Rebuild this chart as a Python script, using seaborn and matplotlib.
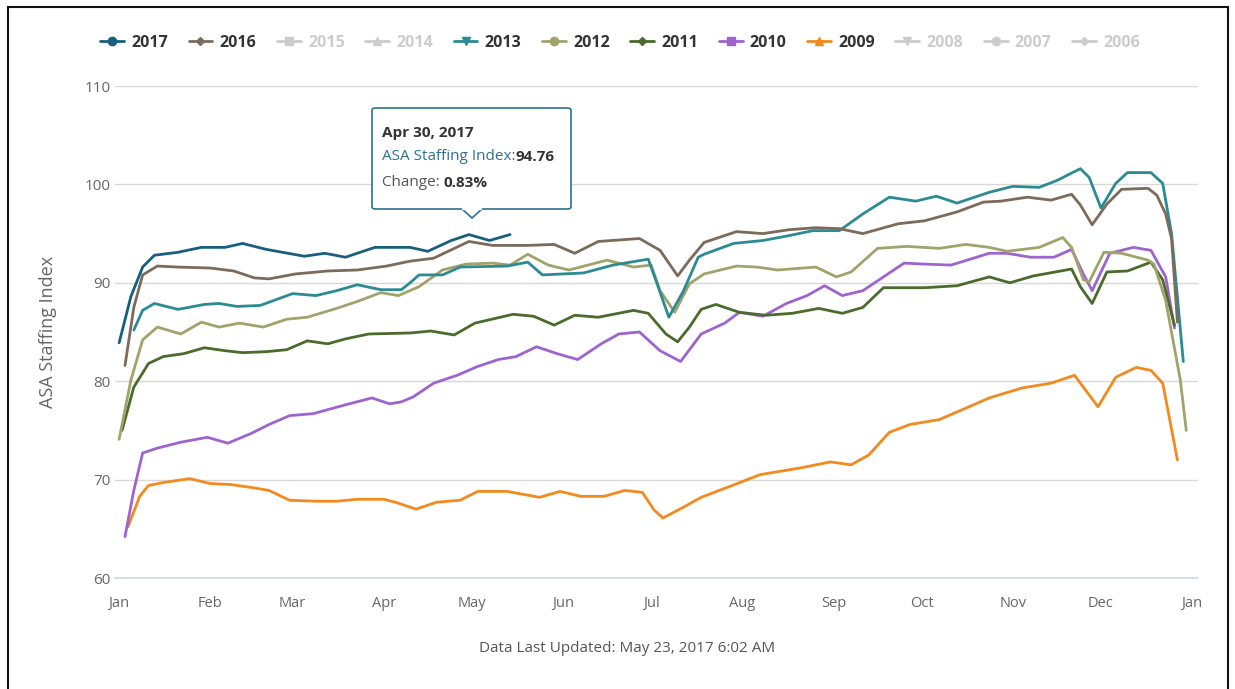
import matplotlib
matplotlib.use("Agg")
import matplotlib.pyplot as plt
import seaborn as sns
import pandas as pd
from matplotlib.lines import Line2D
from matplotlib.patches import Rectangle, FancyBboxPatch, Polygon

W, H = 1235, 689

# day-of-year (0 = Jan 1) and index values
days_2017 = [0, 4, 8, 12, 20, 28, 36, 42, 50, 63, 70, 77, 87, 99, 105, 113, 119, 126, 133]
vals_2017 = [83.9, 88.6, 91.6, 92.8, 93.1, 93.6, 93.6, 94.0, 93.4, 92.7, 93.0, 92.6, 93.6, 93.6,
             93.2, 94.3, 94.9, 94.3, 94.9]

days_2016 = [2, 5, 8, 13, 20, 31, 39, 46, 51, 60, 71, 81, 91, 99, 107, 119, 127, 139, 148, 155,
             163, 177, 184, 190, 194, 199, 210, 219, 228, 237, 245, 253, 265, 274, 285, 294, 300,
             309, 317, 324, 327, 331, 336, 341, 350, 353, 356, 358, 360]
vals_2016 = [81.6, 87.5, 90.8, 91.7, 91.6, 91.5, 91.2, 90.5, 90.4, 90.9, 91.2, 91.3, 91.7, 92.2,
             92.5, 94.2, 93.8, 93.8, 93.9, 93.0, 94.2, 94.5, 93.3, 90.7, 92.3, 94.1, 95.2, 95.0,
             95.4, 95.6, 95.5, 95.0, 96.0, 96.3, 97.2, 98.2, 98.3, 98.7, 98.4, 99.0, 97.9, 95.9,
             98.0, 99.5, 99.6, 98.9, 97.0, 94.5, 86.0]

days_2013 = [5, 8, 12, 20, 29, 34, 40, 48, 59, 67, 74, 81, 89, 96, 99, 102, 110, 116, 132, 139,
             144, 158, 168, 180, 183, 187, 192, 197, 199, 209, 219, 228, 236, 245, 253, 262, 271,
             278, 285, 296, 304, 313, 319, 327, 330, 334, 339, 343, 351, 355, 358, 362]
vals_2013 = [85.2, 87.2, 87.9, 87.3, 87.8, 87.9, 87.6, 87.7, 88.9, 88.7, 89.2, 89.8, 89.3, 89.3,
             90.0, 90.8, 90.8, 91.6, 91.7, 92.1, 90.8, 91.0, 91.8, 92.4, 89.9, 86.5, 89.2, 92.6,
             92.9, 94.0, 94.3, 94.8, 95.3, 95.3, 97.0, 98.7, 98.3, 98.8, 98.1, 99.2, 99.8, 99.7,
             100.4, 101.6, 100.7, 97.6, 100.1, 101.2, 101.2, 100.1, 95.0, 82.0]

days_2012 = [0, 4, 8, 13, 21, 28, 34, 41, 49, 57, 64, 74, 81, 89, 95, 102, 110, 118, 127, 133,
             139, 146, 153, 166, 175, 181, 184, 189, 194, 199, 210, 217, 224, 237, 244, 249, 258,
             268, 279, 288, 296, 302, 313, 321, 324, 328, 330, 335, 341, 350, 352, 356, 361, 363]
vals_2012 = [74.1, 80.1, 84.2, 85.5, 84.8, 86.0, 85.5, 85.9, 85.5, 86.3, 86.5, 87.4, 88.1, 89.0,
             88.7, 89.6, 91.3, 91.9, 92.0, 91.8, 92.9, 91.8, 91.3, 92.3, 91.6, 91.8, 89.2, 87.0,
             89.9, 90.9, 91.7, 91.6, 91.3, 91.6, 90.6, 91.1, 93.5, 93.7, 93.5, 93.9, 93.6, 93.2,
             93.6, 94.6, 93.6, 90.3, 90.1, 93.1, 93.0, 92.3, 91.9, 88.2, 80.1, 75.0]

days_2011 = [1, 5, 10, 15, 22, 29, 36, 42, 50, 57, 64, 71, 77, 85, 99, 106, 114, 121, 134, 141,
             148, 155, 163, 175, 180, 186, 190, 194, 198, 203, 211, 220, 229, 238, 246, 253, 260,
             274, 285, 296, 303, 311, 324, 327, 331, 336, 343, 351, 355, 359]
vals_2011 = [75.0, 79.4, 81.8, 82.5, 82.8, 83.4, 83.1, 82.9, 83.0, 83.2, 84.1, 83.8, 84.3, 84.8,
             84.9, 85.1, 84.7, 85.9, 86.8, 86.6, 85.7, 86.7, 86.5, 87.2, 86.9, 84.8, 84.0, 85.5,
             87.3, 87.8, 87.0, 86.7, 86.9, 87.4, 86.9, 87.5, 89.5, 89.5, 89.7, 90.6, 90.0, 90.7,
             91.4, 89.6, 87.9, 91.1, 91.2, 92.1, 90.3, 85.7]

days_2010 = [2, 5, 8, 13, 21, 30, 37, 45, 51, 58, 66, 77, 86, 92, 96, 100, 107, 115, 122, 129,
             135, 142, 149, 156, 164, 170, 177, 184, 191, 198, 206, 211, 219, 227, 234, 240, 246,
             253, 259, 267, 274, 283, 296, 302, 310, 318, 324, 328, 331, 337, 345, 351, 356, 359]
vals_2010 = [64.2, 68.9, 72.7, 73.2, 73.8, 74.3, 73.7, 74.7, 75.6, 76.5, 76.7, 77.6, 78.3, 77.7,
             77.9, 78.4, 79.8, 80.6, 81.5, 82.2, 82.5, 83.5, 82.8, 82.2, 83.8, 84.8, 85.0, 83.1,
             82.0, 84.8, 85.9, 87.0, 86.6, 87.9, 88.7, 89.7, 88.7, 89.2, 90.4, 92.0, 91.9, 91.8,
             93.0, 93.0, 92.6, 92.6, 93.4, 90.9, 89.2, 93.0, 93.6, 93.3, 90.6, 85.4]

days_2009 = [3, 7, 10, 15, 24, 31, 38, 45, 51, 58, 67, 74, 81, 90, 94, 101, 108, 116, 122, 132,
             143, 150, 157, 165, 172, 178, 182, 185, 192, 198, 205, 212, 218, 232, 242, 249, 255,
             262, 269, 279, 286, 296, 307, 317, 325, 333, 339, 346, 351, 355, 360]
vals_2009 = [65.2, 68.3, 69.4, 69.7, 70.1, 69.6, 69.5, 69.2, 68.9, 67.9, 67.8, 67.8, 68.0, 68.0,
             67.7, 67.0, 67.7, 67.9, 68.8, 68.8, 68.2, 68.8, 68.3, 68.3, 68.9, 68.7, 66.9, 66.1,
             67.2, 68.2, 69.0, 69.8, 70.5, 71.2, 71.8, 71.5, 72.5, 74.8, 75.6, 76.1, 77.0, 78.3,
             79.3, 79.8, 80.6, 77.4, 80.4, 81.4, 81.1, 79.8, 72.0]

legend_years = ["2017", "2016", "2015", "2014", "2013", "2012", "2011", "2010", "2009", "2008", "2007", "2006"]
legend_markers = ["o", "D", "s", "^", "v", "o", "D", "s", "^", "v", "o", "D"]
colors = {"2017": "#17607d", "2016": "#7c6a5a", "2013": "#2b8b93", "2012": "#a2a26c",
          "2011": "#4a6b2b", "2010": "#9d64d0", "2009": "#f28a1e"}
hidden = "#cccccc"

month_days = [0, 31, 59, 90, 120, 151, 181, 212, 243, 273, 304, 334, 365]
month_labels = ["Jan", "Feb", "Mar", "Apr", "May", "Jun", "Jul", "Aug", "Sep", "Oct", "Nov", "Dec", "Jan"]

series = {"2017": (days_2017, vals_2017), "2016": (days_2016, vals_2016),
          "2013": (days_2013, vals_2013), "2012": (days_2012, vals_2012),
          "2011": (days_2011, vals_2011), "2010": (days_2010, vals_2010),
          "2009": (days_2009, vals_2009)}
df = pd.concat([pd.DataFrame({"day": d, "value": v, "year": y}) for y, (d, v) in series.items()],
               ignore_index=True)

sns.set_style("white")
plt.rcParams["font.family"] = ["Open Sans", "DejaVu Sans"]

fig = plt.figure(figsize=(W / 100, H / 100), dpi=100)
left, right, top, bottom = 115, 1198, 86, 578
ax = fig.add_axes([left / W, 1 - bottom / H, (right - left) / W, (bottom - top) / H])


def fx(x):
    return x / W


def fy(y):
    return 1 - y / H


# draw the series in reverse so 2017 sits on top
order = list(series.keys())[::-1]
sns.lineplot(data=df, x="day", y="value", hue="year", hue_order=order,
             palette=[colors[y] for y in order], estimator=None, sort=False,
             linewidth=2, legend=False, ax=ax)

ax.set_xlim(-1.4, 367)
ax.set_ylim(60, 110)
ax.set_yticks([60, 70, 80, 90, 100, 110])
ax.set_xticks(month_days)
ax.set_xticklabels(month_labels)
ax.grid(axis="y", color="#d8d8d8", lw=1)
ax.set_axisbelow(True)
for s in ["top", "right", "left"]:
    ax.spines[s].set_visible(False)
ax.spines["bottom"].set_color("#ccd6eb")
ax.spines["bottom"].set_linewidth(1.2)
ax.tick_params(axis="x", colors="#666666", length=9, width=1, direction="out", pad=4, labelsize=10.5)
ax.tick_params(axis="x", color="#ccd6eb")
ax.tick_params(axis="y", colors="#666666", length=0, pad=3, labelsize=11)
ax.set_xlabel("")
ax.set_ylabel("ASA Staffing Index", color="#666666", fontsize=13, labelpad=20)

# legend across the top
handles = []
for y, m in zip(legend_years, legend_markers):
    c = colors.get(y, hidden)
    handles.append(Line2D([], [], color=c, marker=m, lw=2, markersize=6 if m != "D" else 4.5))
leg = fig.legend(handles, legend_years, loc="center", bbox_to_anchor=(fx(620), fy(43)), ncol=12,
                 frameon=False, handlelength=1.5, handletextpad=0.45, columnspacing=1.28,
                 prop={"weight": "bold", "size": 11.5})
for t, y in zip(leg.get_texts(), legend_years):
    t.set_color("#333333" if y in colors else hidden)

# tooltip
box = FancyBboxPatch((fx(372), fy(209)), fx(571) - fx(372), fy(108) - fy(209),
                     boxstyle="round,pad=0,rounding_size=0.003", transform=fig.transFigure,
                     facecolor="white", edgecolor="#2f6f8f", lw=1.2, zorder=10)
fig.add_artist(box)
tip = Polygon([(fx(462), fy(209)), (fx(472), fy(218)), (fx(482), fy(209))], closed=False,
              transform=fig.transFigure, facecolor="white", edgecolor="#2f6f8f", lw=1.2, zorder=11)
fig.add_artist(tip)
fig.add_artist(Line2D([fx(463), fx(481)], [fy(209), fy(209)], transform=fig.transFigure,
                      color="white", lw=1.6, zorder=12))
fig.text(fx(382), fy(133), "Apr 30, 2017", fontsize=11, weight="bold", color="#333333",
         va="center", zorder=13)
t1 = fig.text(fx(382), fy(157), "ASA Staffing Index:", fontsize=11, color="#2f6f8f",
              va="center", zorder=13)
fig.canvas.draw()
bb = t1.get_window_extent()
fig.text(bb.x1 / W, fy(157), "94.76", fontsize=11, weight="bold", color="#333333",
         va="center", zorder=13)
t2 = fig.text(fx(382), fy(183), "Change: ", fontsize=11, color="#555555", va="center", zorder=13)
fig.canvas.draw()
bb = t2.get_window_extent()
fig.text(bb.x1 / W, fy(183), "0.83%", fontsize=11, weight="bold", color="#333333",
         va="center", zorder=13)

# footer
fig.text(fx(627), fy(648), "Data Last Updated: May 23, 2017 6:02 AM", ha="center", va="center",
         fontsize=11, color="#555555")

# screenshot frame
fig.add_artist(Rectangle((fx(8), -0.05), fx(1228) - fx(8), fy(7) + 0.05, transform=fig.transFigure,
                         fill=False, edgecolor="#111111", lw=1.5))

fig.savefig("out.png", dpi=100)
